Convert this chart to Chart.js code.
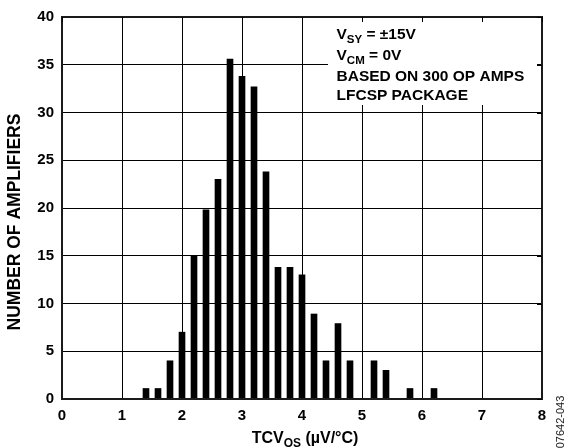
<!DOCTYPE html>
<html>
<head>
<meta charset="utf-8">
<script src="https://cdn.jsdelivr.net/npm/chart.js@4/dist/chart.umd.min.js"></script>
<style>
  html, body { margin: 0; padding: 0; background: #fff; }
  #wrap { width: 566px; height: 448px; }
</style>
</head>
<body>
<div id="wrap"><canvas id="histChart"></canvas></div>
<script>
// bin centres (µV/°C) and number of amplifiers in each bin
var binCenters = [1.4, 1.6, 1.8, 2.0, 2.2, 2.4, 2.6, 2.8, 3.0, 3.2, 3.4, 3.6, 3.8, 4.0, 4.2, 4.4, 4.6, 4.8, 5.2, 5.4, 5.8, 6.2];
var counts = [1.1, 1.1, 4, 7, 15, 19.8, 23, 35.6, 33.8, 32.7, 23.8, 13.8, 13.8, 13, 8.9, 4, 7.9, 4, 4, 3, 1.1, 1.1];
var xTicks = [0, 1, 2, 3, 4, 5, 6, 7, 8];
var yTicks = [0, 5, 10, 15, 20, 25, 30, 35, 40];
var noteLines = [
  ["V", "SY", " = \u00b115V"],
  ["V", "CM", " = 0V"],
  ["BASED ON 300 OP AMPS"],
  ["LFCSP PACKAGE"]
];

var FONT = "'Liberation Sans', Arial, Helvetica, sans-serif";

var points = binCenters.map(function (x, i) {
  return { x: x, y: counts[i] };
});

// draws text with a lowered subscript part, returns the end x
function drawSub(ctx, parts, x, y, size, subSize) {
  ctx.font = "bold " + size + "px " + FONT;
  ctx.fillText(parts[0], x, y);
  x += ctx.measureText(parts[0]).width;
  if (parts.length > 1) {
    ctx.font = "bold " + subSize + "px " + FONT;
    ctx.fillText(parts[1], x, y + 4);
    x += ctx.measureText(parts[1]).width;
    ctx.font = "bold " + size + "px " + FONT;
    ctx.fillText(parts[2], x, y);
    x += ctx.measureText(parts[2]).width;
  }
  return x;
}

function measureSub(ctx, parts, size, subSize) {
  ctx.font = "bold " + size + "px " + FONT;
  var w = ctx.measureText(parts[0]).width;
  if (parts.length > 1) {
    ctx.font = "bold " + subSize + "px " + FONT;
    w += ctx.measureText(parts[1]).width;
    ctx.font = "bold " + size + "px " + FONT;
    w += ctx.measureText(parts[2]).width;
  }
  return w;
}

var boxPlugin = {
  id: "noteBox",
  beforeDatasetsDraw: function (chart) {
    var ctx = chart.ctx;
    var a = chart.chartArea;
    ctx.save();
    ctx.fillStyle = "#fff";
    ctx.fillRect(328, a.top, a.right - 5 - 328, 105 - a.top);
    ctx.restore();
  },
  afterDraw: function (chart) {
    var ctx = chart.ctx;
    var a = chart.chartArea;
    var xs = chart.scales.x;
    var ys = chart.scales.y;
    ctx.save();

    // frame
    ctx.strokeStyle = "#1a1a1a";
    ctx.lineWidth = 2;
    ctx.strokeRect(a.left, a.top, a.right - a.left, a.bottom - a.top);

    // inward tick marks on top and right edges
    ctx.lineWidth = 1;
    ctx.strokeStyle = "#000";
    ctx.beginPath();
    xTicks.forEach(function (v) {
      var px = Math.round(xs.getPixelForValue(v)) + 0.5;
      ctx.moveTo(px, a.top);
      ctx.lineTo(px, a.top + 5);
    });
    yTicks.forEach(function (v) {
      var py = Math.round(ys.getPixelForValue(v)) + 0.5;
      ctx.moveTo(a.right - 5, py);
      ctx.lineTo(a.right, py);
    });
    ctx.stroke();

    // note text
    ctx.fillStyle = "#000";
    ctx.textAlign = "left";
    ctx.textBaseline = "alphabetic";
    var base = [39, 60, 81, 100];
    noteLines.forEach(function (parts, i) {
      drawSub(ctx, parts, 336.5, base[i], 15.5, 11.5);
    });

    // x title with subscript
    var xt = ["TCV", "OS", " (\u00b5V/\u00b0C)"];
    var w = measureSub(ctx, xt, 16, 12);
    drawSub(ctx, xt, 305 - w / 2, 443, 16, 12);

    // y title
    ctx.save();
    ctx.translate(20, 222);
    ctx.rotate(-Math.PI / 2);
    ctx.textAlign = "center";
    ctx.font = "bold 17.5px " + FONT;
    ctx.fillText("NUMBER OF AMPLIFIERS", 0, 0);
    ctx.restore();

    // figure code at right edge
    ctx.save();
    ctx.translate(564, 422);
    ctx.rotate(-Math.PI / 2);
    ctx.textAlign = "center";
    ctx.font = "11px " + FONT;
    ctx.fillStyle = "#222";
    ctx.fillText("07642-043", 0, 0);
    ctx.restore();

    ctx.restore();
  }
};

var ctx = document.getElementById("histChart");

new Chart(ctx, {
  type: "bar",
  data: {
    datasets: [
      {
        label: "Amplifiers",
        data: points,
        backgroundColor: "#000",
        borderWidth: 0,
        barThickness: 6
      }
    ]
  },
  options: {
    responsive: true,
    maintainAspectRatio: false,
    animation: false,
    layout: {
      padding: { left: 0, top: 15, right: 24, bottom: 0 }
    },
    plugins: {
      legend: { display: false },
      tooltip: { enabled: false },
      title: { display: false }
    },
    scales: {
      x: {
        type: "linear",
        min: 0,
        max: 8,
        offset: false,
        afterFit: function (scale) {
          scale.height = 49;
        },
        afterBuildTicks: function (scale) {
          scale.ticks = xTicks.map(function (v) { return { value: v }; });
        },
        grid: {
          offset: false,
          color: "#000",
          lineWidth: 1,
          drawTicks: false
        },
        border: { display: false },
        ticks: {
          padding: 8,
          color: "#000",
          font: { family: FONT, size: 15, weight: "bold" },
          maxRotation: 0
        }
      },
      y: {
        min: 0,
        max: 40,
        afterFit: function (scale) {
          scale.width = 62;
        },
        afterBuildTicks: function (scale) {
          scale.ticks = yTicks.map(function (v) { return { value: v }; });
        },
        grid: {
          color: "#000",
          lineWidth: 1,
          drawTicks: false
        },
        border: { display: false },
        ticks: {
          padding: 8,
          color: "#000",
          font: { family: FONT, size: 15, weight: "bold" }
        }
      }
    }
  },
  plugins: [boxPlugin]
});
</script>
</body>
</html>
